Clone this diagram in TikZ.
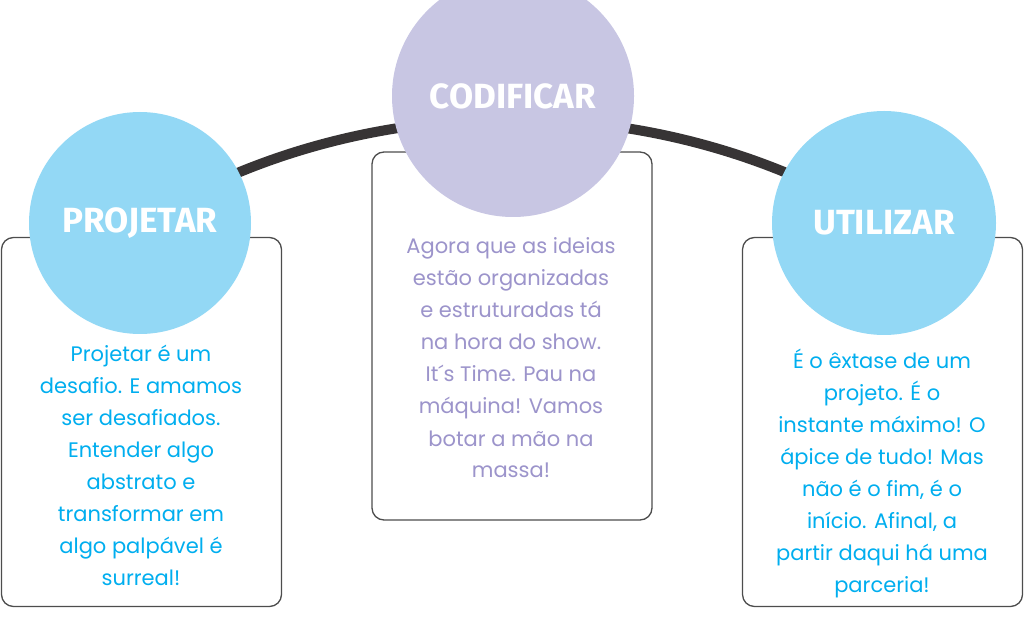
\documentclass[tikz,border=0pt]{standalone}
\usepackage{fontspec}
\setmainfont{Poppins}
\newfontfamily\headfont{Fira Sans}
\usetikzlibrary{positioning,backgrounds}
\definecolor{csky}{HTML}{93D8F5}
\definecolor{clav}{HTML}{C8C6E3}
\definecolor{ccyan}{HTML}{00AEEF}
\definecolor{cviolet}{HTML}{9C94CB}
\definecolor{cbar}{HTML}{373435}
\definecolor{cframe}{HTML}{4D4D4D}

\begin{document}
\begin{tikzpicture}[x=1pt,y=1pt,
  card/.style={draw=cframe,line width=1.3pt,rounded corners=12pt,fill=white,
    minimum width=280pt,minimum height=369pt,inner sep=0pt},
  disc/.style={circle,fill=#1,inner sep=0pt,text=white,
    font=\headfont\bfseries\fontsize{35}{35}\selectfont},
  blurb/.style={align=center,inner sep=0pt,text=#1,anchor=base,
    font=\fontsize{21}{32}\selectfont}]
\useasboundingbox (0,0) rectangle (1024,629);
% cards
\node[card] (pbox) at (141.5,207) {};
\node[card,minimum height=368pt] (cbox) at (512,293) {};
\node[card] (ubox) at (882.5,207) {};
% discs
\node[disc=csky,minimum size=222pt] (projetar) at (140,406) {PROJETAR};
\node[disc=clav,minimum size=242pt] (codificar) at (513,533) {CODIFICAR};
\node[disc=csky,minimum size=224pt] (utilizar) at (884,406) {UTILIZAR};
% arc behind the discs
\begin{scope}[on background layer]
\draw[cbar,line width=10pt] (projetar.center) to[bend left=32,looseness=0.9] (utilizar.center);
\end{scope}
% texts (anchored on the last line)
\node[blurb=ccyan] (ptext) at (141,44) {Projetar é um\\desafio. E amamos\\ser desafiados.\\Entender algo\\abstrato e\\transformar em\\algo palpável é\\surreal!};
\node[blurb=cviolet] (ctext) at (511,151) {Agora que as ideias\\estão organizadas\\e estruturadas tá\\na hora do show.\\It´s Time. Pau na\\máquina! Vamos\\botar a mão na\\massa!};
\node[blurb=ccyan] (utext) at (882,37) {É o êxtase de um\\projeto. É o\\instante máximo! O\\ápice de tudo! Mas\\não é o fim, é o\\início. Afinal, a\\partir daqui há uma\\parceria!};
\end{tikzpicture}
\end{document}
